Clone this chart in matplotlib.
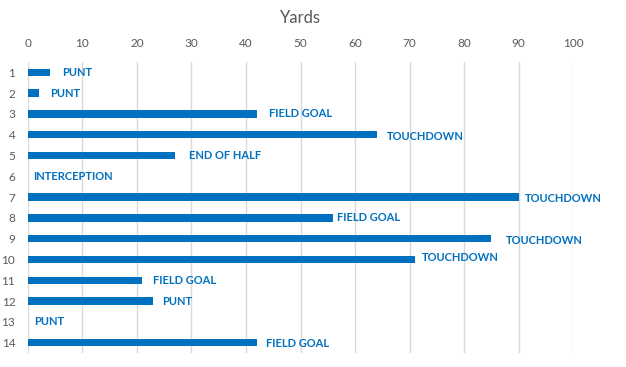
import matplotlib
matplotlib.use("Agg")
import matplotlib.pyplot as plt

# Drive-by-drive yardage and result
drives = [1, 2, 3, 4, 5, 6, 7, 8, 9, 10, 11, 12, 13, 14]
yards = [4, 2, 42, 64, 27, 0, 90, 56, 85, 71, 21, 23, 0, 42]
results = ["PUNT", "PUNT", "FIELD GOAL", "TOUCHDOWN", "END OF HALF",
           "INTERCEPTION", "TOUCHDOWN", "FIELD GOAL", "TOUCHDOWN",
           "TOUCHDOWN", "FIELD GOAL", "PUNT", "PUNT", "FIELD GOAL"]
x_ticks = [0, 10, 20, 30, 40, 50, 60, 70, 80, 90, 100]

# label nudges in pixels (the original labels were hand-placed)
label_dx = [13, 11, 12, 10, 14, 5, 6, 4, 14, 7, 11, 9, 6, 9]
label_dy = [0, 0, 0, -2, 0, 0, -1, 0, -2, 2, 0, 0, 0, -1]

BLUE = "#0070C0"
GREY = "#595959"
plt.rcParams["font.family"] = ["Lato", "DejaVu Sans"]

fig = plt.figure(figsize=(6.26, 3.67), dpi=100)
ax = fig.add_axes([0.0443, 0.0381, 0.8715, 0.793])

ax.barh(drives, yards, height=0.36, color=BLUE, zorder=2)

for d, v, txt, dx, dy in zip(drives, yards, results, label_dx, label_dy):
    ax.annotate(txt, (v, d), xytext=(dx, dy), textcoords="offset pixels",
                ha="left", va="center", color=BLUE, fontsize=8,
                fontweight="bold")

ax.set_xlim(0, 100)
ax.set_ylim(14.5, 0.5)
ax.set_xticks(x_ticks)
ax.set_yticks(drives)
ax.xaxis.tick_top()
ax.tick_params(axis="both", length=0, labelsize=8.5, labelcolor=GREY)
ax.tick_params(axis="x", pad=9)
ax.tick_params(axis="y", pad=9)
ax.grid(axis="x", color="#D9D9D9", linewidth=1, zorder=0)
for s in ax.spines.values():
    s.set_visible(False)

fig.text(0.48, 0.95, "Yards", ha="center", va="center",
         fontsize=12, color=GREY)

fig.savefig("out.png", dpi=100)
plt.close(fig)
